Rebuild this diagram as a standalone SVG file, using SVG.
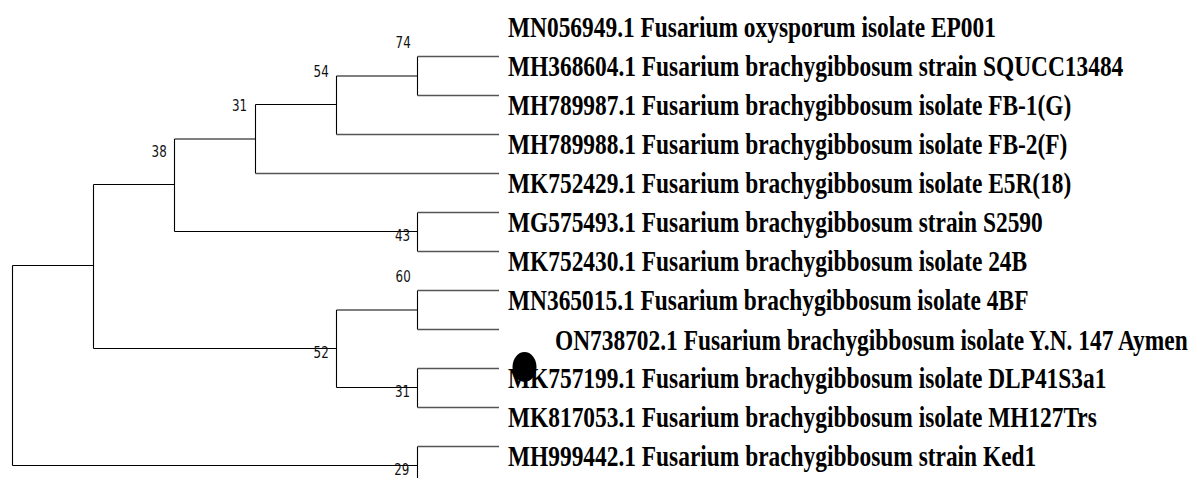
<svg xmlns="http://www.w3.org/2000/svg" width="1190" height="478" viewBox="0 0 1190 478">
<style>
.br{stroke:#000;stroke-width:1.1;fill:none}
.lf{stroke:#555;stroke-width:1.6;fill:none}
.bs{font-family:"DejaVu Sans Condensed","DejaVu Sans",sans-serif;font-size:16.5px;fill:#111;text-anchor:end}
.lb{font-family:"Liberation Serif","Times New Roman",serif;font-weight:bold;font-size:30px;fill:#000}
</style>
<rect width="1190" height="478" fill="#fff"/>
<g id="connectors">
<path class="br" d="M12.5,265.5V465.5M12.5,265.5H93.5M12.5,465.5H417.5M93.5,184.5V348.5M93.5,184.5H174.5M93.5,348.5H336.5M174.5,139V231.5M174.5,139H255.5M174.5,231.5H417.5M255.5,104.5V173.5M255.5,104.5H336.5M336.5,76V134.5M336.5,76H417.5M417.5,56.5V95.5M417.5,212.5V251.5M336.5,310V387.5M336.5,310H417.5M336.5,387.5H417.5M417.5,290.5V329.5M417.5,368.5V407.5M417.5,446.5V478"/>
<path class="lf" d="M417.5,56.5H499M417.5,95.5H499M336.5,134.5H499M255.5,173.5H499M417.5,212.5H499M417.5,251.5H499M417.5,290.5H499M417.5,329.5H499M417.5,368.5H499M417.5,407.5H499M417.5,446.5H499"/>
</g>
<g id="n74" transform="translate(410.7,48.3) scale(0.8,1)"><text class="bs">74</text></g>
<g id="n54" transform="translate(328.7,77.3) scale(0.8,1)"><text class="bs">54</text></g>
<g id="n31a" transform="translate(247,111) scale(0.8,1)"><text class="bs">31</text></g>
<g id="n38" transform="translate(166.7,157.3) scale(0.8,1)"><text class="bs">38</text></g>
<g id="n43" transform="translate(410,240.7) scale(0.8,1)"><text class="bs">43</text></g>
<g id="n60" transform="translate(410.7,282.3) scale(0.8,1)"><text class="bs">60</text></g>
<g id="n52" transform="translate(328.7,358.3) scale(0.8,1)"><text class="bs">52</text></g>
<g id="n31b" transform="translate(410,397.3) scale(0.8,1)"><text class="bs">31</text></g>
<g id="n29" transform="translate(409.3,475) scale(0.8,1)"><text class="bs">29</text></g>
<g id="t1" transform="translate(508,37) scale(0.78,1)"><text class="lb">MN056949.1 Fusarium oxysporum isolate EP001</text></g>
<g id="t2" transform="translate(508,76) scale(0.78,1)"><text class="lb">MH368604.1 Fusarium brachygibbosum strain SQUCC13484</text></g>
<g id="t3" transform="translate(508,115) scale(0.78,1)"><text class="lb">MH789987.1 Fusarium brachygibbosum isolate FB-1(G)</text></g>
<g id="t4" transform="translate(508,154) scale(0.78,1)"><text class="lb">MH789988.1 Fusarium brachygibbosum isolate FB-2(F)</text></g>
<g id="t5" transform="translate(508,193) scale(0.78,1)"><text class="lb">MK752429.1 Fusarium brachygibbosum isolate E5R(18)</text></g>
<g id="t6" transform="translate(508,232) scale(0.78,1)"><text class="lb">MG575493.1 Fusarium brachygibbosum strain S2590</text></g>
<g id="t7" transform="translate(508,271) scale(0.78,1)"><text class="lb">MK752430.1 Fusarium brachygibbosum isolate 24B</text></g>
<g id="t8" transform="translate(508,310) scale(0.78,1)"><text class="lb">MN365015.1 Fusarium brachygibbosum isolate 4BF</text></g>
<g id="t9" transform="translate(555,349.5) scale(0.78,1)"><text class="lb">ON738702.1 Fusarium brachygibbosum isolate Y.N. 147 Aymen</text></g>
<g id="t10" transform="translate(508,388) scale(0.78,1)"><text class="lb">MK757199.1 Fusarium brachygibbosum isolate DLP41S3a1</text></g>
<g id="t11" transform="translate(508,427) scale(0.78,1)"><text class="lb">MK817053.1 Fusarium brachygibbosum isolate MH127Trs</text></g>
<g id="t12" transform="translate(508,466) scale(0.78,1)"><text class="lb">MH999442.1 Fusarium brachygibbosum strain Ked1</text></g>
<g id="marker"><ellipse cx="524.5" cy="367" rx="12" ry="15" fill="#000"/></g>
</svg>
